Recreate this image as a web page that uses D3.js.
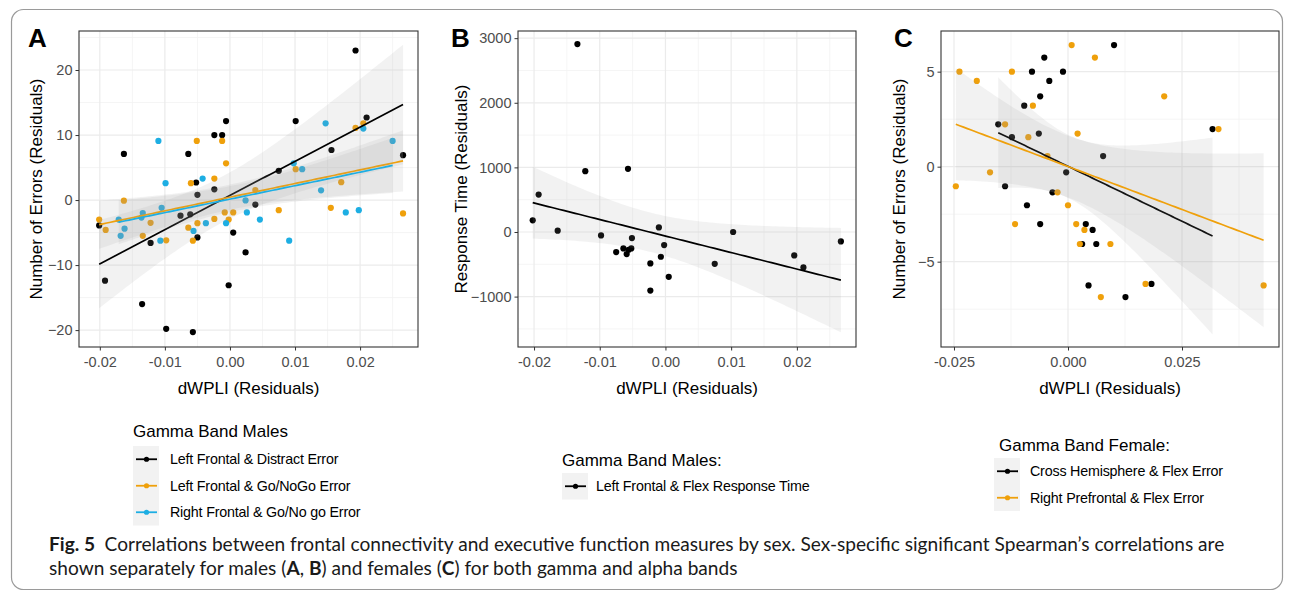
<!DOCTYPE html>
<html><head><meta charset="utf-8">
<script src="https://cdn.jsdelivr.net/npm/d3@7"></script>
<style>body{margin:0;background:#fff}svg{display:block}</style>
</head><body>
<svg id="c" width="1293" height="592"></svg>
<script>
// ---------------- DATA ----------------
// Panel A: Gamma Band Males
const aBlackX = [0.0193,-0.0163,-0.0024,-0.0012,-0.0006,0.0101,0.0210,-0.0064,0.0156,0.0266,-0.0052,-0.0050,-0.0024,0.0075,0.0039,-0.0076,-0.0061,-0.0201,-0.0122,-0.0050,0.0005,0.0024,-0.0192,-0.0002,-0.0135,-0.0098,-0.0057];
const aBlackY = [23.0,7.1,10.0,10.0,12.15,12.15,12.7,7.1,7.7,6.9,2.7,0.8,1.65,4.5,-0.7,-2.4,-2.2,-3.9,-6.6,-5.75,-5.0,-8.05,-12.4,-13.1,-16.0,-19.8,-20.3];
const aOrangeX = [-0.0051,-0.0012,-0.0006,-0.0024,-0.0060,0.0039,0.0101,0.0171,0.0193,0.0205,-0.0163,0.0075,0.0155,0.0266,-0.0008,0.0005,-0.0024,-0.0002,-0.0201,-0.0191,-0.0122,-0.0134,-0.0098,-0.0064,-0.0050,-0.0057];
const aOrangeY = [9.1,9.1,5.65,3.3,2.6,1.55,4.75,2.75,11.1,11.8,-0.1,-1.55,-1.2,-2.05,-1.9,-1.9,-2.9,-3.0,-3.0,-4.6,-3.5,-5.5,-6.2,-4.25,-3.55,-6.25];
const aBlueX = [-0.0110,0.0147,0.0205,0.0250,-0.0099,-0.0042,0.0098,0.0111,0.0140,0.0024,-0.0105,-0.0134,0.0026,0.0178,0.0198,-0.0171,-0.0168,-0.0162,-0.0136,-0.0107,-0.0056,-0.0037,-0.0006,0.0046,0.0091];
const aBlueY = [9.1,11.8,11.0,9.1,2.6,3.3,5.65,4.75,1.5,-0.05,-1.2,-2.0,-1.9,-1.9,-1.55,-3.0,-5.5,-4.4,-2.7,-6.25,-4.75,-3.55,-3.55,-3.0,-6.25];
// Panel B: Left Frontal & Flex Response Time
const bX = [-0.0134,-0.0193,-0.0122,-0.0057,-0.0202,-0.0164,-0.0098,-0.0075,-0.0064,-0.0059,-0.0056,-0.0052,-0.0051,-0.0023,-0.0023,-0.0010,-0.0007,-0.0002,0.0005,0.0075,0.0103,0.0196,0.0210,0.0267];
const bY = [2908,579,941,978,180,20,-53,-311,-255,-342,-275,-255,-94,-487,-907,71,-383,-202,-694,-492,0,-363,-549,-146];
// Panel C: Gamma Band Female
const cBlackX = [-0.0079,-0.0052,-0.0011,-0.0041,-0.0061,-0.0096,0.0101,-0.0153,-0.0123,-0.0064,0.0077,-0.0004,-0.0138,-0.0034,-0.0090,0.0317,-0.0061,0.0039,0.0054,0.0031,0.0062,0.0045,0.0126,0.0183];
const cBlackY = [5.0,5.74,5.0,4.51,3.7,3.21,6.4,2.23,1.55,1.74,0.56,-0.3,-1.03,-1.35,-2.03,1.98,-3.02,-3.02,-3.33,-4.07,-4.07,-6.25,-6.86,-6.17];
const cOrangeX = [-0.0238,-0.0123,-0.0200,0.0008,0.0059,0.0211,-0.0077,-0.0138,-0.0087,0.0021,0.0330,-0.0045,-0.0171,-0.0246,-0.0023,0.0000,-0.0116,0.0018,0.0036,0.0026,0.0093,0.0072,0.0170,0.0429];
const cOrangeY = [5.0,5.0,4.51,6.4,5.74,3.7,3.21,2.23,1.55,1.74,1.98,0.56,-0.3,-1.03,-1.35,-2.03,-3.02,-3.02,-3.33,-4.07,-4.07,-6.86,-6.17,-6.25];

// tick values
const aXTicks = [-0.02,-0.01,0,0.01,0.02], aYTicks = [-20,-10,0,10,20];
const bXTicks = [-0.02,-0.01,0,0.01,0.02], bYTicks = [-1000,0,1000,2000,3000];
const cXTicks = [-0.025,0,0.025], cYTicks = [-5,0,5];
const aXMinor = [-0.015,-0.005,0.005,0.015,0.025], aYMinor = [-15,-5,5,15,25];
const bXMinor = [-0.015,-0.005,0.005,0.015,0.025], bYMinor = [-1500,-500,500,1500,2500];
const cXMinor = [-0.0125,0.0125,0.0375], cYMinor = [-7.5,-2.5,2.5];

// legend labels
const legendATitle = "Gamma Band Males";
const legendALabels = ["Left Frontal & Distract Error","Left Frontal & Go/NoGo Error","Right Frontal & Go/No go Error"];
const legendBTitle = "Gamma Band Males:";
const legendBLabels = ["Left Frontal & Flex Response Time"];
const legendCTitle = "Gamma Band Female:";
const legendCLabels = ["Cross Hemisphere & Flex Error","Right Prefrontal & Flex Error"];

// ---------------- STYLE ----------------
const BLACK = "#000000", ORANGE = "#EFA00B", BLUE = "#1DAEE3";
const FONT = "'Liberation Sans', Arial, Helvetica, sans-serif";
const svg = d3.select("#c");

// outer frame
svg.append("rect").attr("x",11.5).attr("y",9.5).attr("width",1271).attr("height",580)
  .attr("rx",12).attr("fill","none").attr("stroke","#9a9a9a").attr("stroke-width",1.2);

// ---------------- helpers ----------------
function tq975(df){ const z=1.959964; return z + (z*z*z+z)/(4*df) + (5*Math.pow(z,5)+16*z*z*z+3*z)/(96*df*df) + (3*Math.pow(z,7)+19*Math.pow(z,5)+17*z*z*z-15*z)/(384*df*df*df); }
function lmFit(xs, ys){
  const n = xs.length, xm = d3.mean(xs), ym = d3.mean(ys);
  let sxx=0, sxy=0; for(let i=0;i<n;i++){ sxx+=(xs[i]-xm)**2; sxy+=(xs[i]-xm)*(ys[i]-ym); }
  const b = sxy/sxx, a = ym - b*xm;
  let sse=0; for(let i=0;i<n;i++){ sse += (ys[i]-(a+b*xs[i]))**2; }
  const s = Math.sqrt(sse/(n-2)), t = tq975(n-2);
  const [x0,x1] = d3.extent(xs);
  const pts = d3.range(0,81).map(k=>{ const x = x0 + (x1-x0)*k/80; const yh=a+b*x;
    const se = s*Math.sqrt(1/n + (x-xm)**2/sxx); return {x, y:yh, lo:yh-t*se, hi:yh+t*se}; });
  return pts;
}

function panel(cfg){
  const g = svg.append("g");
  const x = d3.scaleLinear().domain(cfg.xDomain).range([cfg.left, cfg.right]);
  const y = d3.scaleLinear().domain(cfg.yDomain).range([cfg.bottom, cfg.top]);
  g.append("rect").attr("x",cfg.left).attr("y",cfg.top).attr("width",cfg.right-cfg.left).attr("height",cfg.bottom-cfg.top).attr("fill","#fff");
  // minor grid
  g.selectAll(null).data(cfg.xMinor).join("line").attr("x1",d=>x(d)).attr("x2",d=>x(d)).attr("y1",cfg.top).attr("y2",cfg.bottom).attr("stroke","#F3F3F3").attr("stroke-width",0.8);
  g.selectAll(null).data(cfg.yMinor).join("line").attr("y1",d=>y(d)).attr("y2",d=>y(d)).attr("x1",cfg.left).attr("x2",cfg.right).attr("stroke","#F3F3F3").attr("stroke-width",0.8);
  // major grid
  g.selectAll(null).data(cfg.xTicks).join("line").attr("x1",d=>x(d)).attr("x2",d=>x(d)).attr("y1",cfg.top).attr("y2",cfg.bottom).attr("stroke","#EBEBEB").attr("stroke-width",1.2);
  g.selectAll(null).data(cfg.yTicks).join("line").attr("y1",d=>y(d)).attr("y2",d=>y(d)).attr("x1",cfg.left).attr("x2",cfg.right).attr("stroke","#EBEBEB").attr("stroke-width",1.2);
  // points
  cfg.series.forEach(s=>{
    g.selectAll(null).data(d3.zip(s.x,s.y)).join("circle")
      .attr("cx",d=>x(d[0])).attr("cy",d=>y(d[1])).attr("r",3.1).attr("fill",s.color);
  });
  // smooths (lm with 95% CI)
  cfg.series.forEach(s=>{
    const pts = lmFit(s.x, s.y);
    g.append("path").datum(pts).attr("fill","#999999").attr("fill-opacity",0.13)
      .attr("d", d3.area().x(d=>x(d.x)).y0(d=>y(d.lo)).y1(d=>y(d.hi)));
    g.append("path").datum(pts).attr("fill","none").attr("stroke",s.color).attr("stroke-width",1.7)
      .attr("d", d3.line().x(d=>x(d.x)).y(d=>y(d.y)));
  });
  // border
  g.append("rect").attr("x",cfg.left).attr("y",cfg.top).attr("width",cfg.right-cfg.left).attr("height",cfg.bottom-cfg.top)
    .attr("fill","none").attr("stroke","#333333").attr("stroke-width",1.1);
  // axes
  const ax = g.append("g").attr("transform",`translate(0,${cfg.bottom})`)
    .call(d3.axisBottom(x).tickValues(cfg.xTicks).tickFormat(cfg.xFmt).tickSize(3.5).tickPadding(3));
  const ay = g.append("g").attr("transform",`translate(${cfg.left},0)`)
    .call(d3.axisLeft(y).tickValues(cfg.yTicks).tickFormat(d3.format("d")).tickSize(3.5).tickPadding(3));
  [ax,ay].forEach(a=>{ a.select(".domain").remove();
    a.selectAll(".tick line").attr("stroke","#333333");
    a.selectAll(".tick text").attr("fill","#4D4D4D").style("font-family",FONT).style("font-size","14.5px"); });
  ax.selectAll(".tick text").attr("dy","0.9em");
  // x title
  g.append("text").attr("x",(cfg.left+cfg.right)/2).attr("y",394).attr("text-anchor","middle")
    .style("font-family",FONT).style("font-size","17px").attr("fill","#000").text("dWPLI (Residuals)");
  // y title
  g.append("text").attr("transform",`translate(${cfg.yTitleX},${(cfg.top+cfg.bottom)/2}) rotate(-90)`).attr("text-anchor","middle")
    .attr("dy","0.35em").style("font-family",FONT).style("font-size","17px").attr("fill","#000").text(cfg.yTitle);
  // panel letter
  g.append("text").attr("x",cfg.letterX).attr("y",47).style("font-family",FONT).style("font-size","26px").style("font-weight","bold").text(cfg.letter);
}

const f2 = d3.format(".2f"), f3 = d3.format(".3f");
const fmtMinus = f => (d => f(d).replace("\u2212","-"));

panel({left:79,right:418,top:31,bottom:347,xDomain:[-0.0232,0.0289],yDomain:[-22.6,26],
  xTicks:aXTicks,yTicks:aYTicks,xMinor:aXMinor,yMinor:aYMinor,xFmt:fmtMinus(f2),
  series:[{x:aBlackX,y:aBlackY,color:BLACK},{x:aOrangeX,y:aOrangeY,color:ORANGE},{x:aBlueX,y:aBlueY,color:BLUE}],
  yTitle:"Number of Errors (Residuals)",yTitleX:36,letter:"A",letterX:28});
panel({left:518,right:856,top:31,bottom:347,xDomain:[-0.02244,0.029],yDomain:[-1780,3111],
  xTicks:bXTicks,yTicks:bYTicks,xMinor:bXMinor,yMinor:bYMinor,xFmt:fmtMinus(f2),
  series:[{x:bX,y:bY,color:BLACK}],
  yTitle:"Response Time (Residuals)",yTitleX:461,letter:"B",letterX:451});
panel({left:941,right:1279,top:31,bottom:347,xDomain:[-0.02785,0.04627],yDomain:[-9.49,7.14],
  xTicks:cXTicks,yTicks:cYTicks,xMinor:cXMinor,yMinor:cYMinor,xFmt:fmtMinus(f3),
  series:[{x:cBlackX,y:cBlackY,color:BLACK},{x:cOrangeX,y:cOrangeY,color:ORANGE}],
  yTitle:"Number of Errors (Residuals)",yTitleX:899,letter:"C",letterX:894});

// ---------------- legends ----------------
function legend(title, labels, colors, tx, ty, boxX, boxY, textX){
  const g = svg.append("g");
  g.append("text").attr("x",tx).attr("y",ty).style("font-family",FONT).style("font-size","17px").attr("fill","#000").text(title);
  const h = 26.5;
  g.append("rect").attr("x",boxX).attr("y",boxY).attr("width",26).attr("height",h*labels.length).attr("fill","#F2F2F2");
  labels.forEach((lab,i)=>{
    const cy = boxY + h*i + h/2;
    g.append("line").attr("x1",boxX+3).attr("x2",boxX+24).attr("y1",cy).attr("y2",cy).attr("stroke",colors[i]).attr("stroke-width",1.8);
    g.append("circle").attr("cx",boxX+13.5).attr("cy",cy).attr("r",2.6).attr("fill",colors[i]);
    g.append("text").attr("x",textX).attr("y",cy).attr("dy","0.36em").style("font-family",FONT).style("font-size","14.3px")
      .style("letter-spacing","-0.2px").attr("fill","#000").text(lab);
  });
}
legend(legendATitle, legendALabels, [BLACK,ORANGE,BLUE], 133, 437, 133, 446, 170);
legend(legendBTitle, legendBLabels, [BLACK], 562, 466, 562, 473, 596);
legend(legendCTitle, legendCLabels, [BLACK,ORANGE], 999, 451, 994, 458, 1030);

// ---------------- caption ----------------
const CAPFONT = "Lato, 'Open Sans', 'Noto Sans', sans-serif";
const cap1 = svg.append("text").attr("x",49).attr("y",551).style("font-family",CAPFONT).attr("fill","#1a1a1a").style("font-size","20px");
cap1.append("tspan").style("font-weight","bold").text("Fig. 5");
cap1.append("tspan").text("\u2002Correlations between frontal connectivity and executive function measures by sex. Sex-specific significant Spearman\u2019s correlations are");
const w1 = cap1.node().getComputedTextLength();
const capSize = 20*1176/w1;
cap1.style("font-size", capSize+"px");
const cap2 = svg.append("text").attr("x",49).attr("y",575).style("font-family",CAPFONT).attr("fill","#1a1a1a").style("font-size",capSize+"px");
[["shown separately for males (",0],["A",1],[", ",0],["B",1],[") and females (",0],["C",1],[") for both gamma and alpha bands",0]]
  .forEach(([t,b])=>cap2.append("tspan").style("font-weight",b?"bold":"normal").text(t));
</script>
</body></html>
